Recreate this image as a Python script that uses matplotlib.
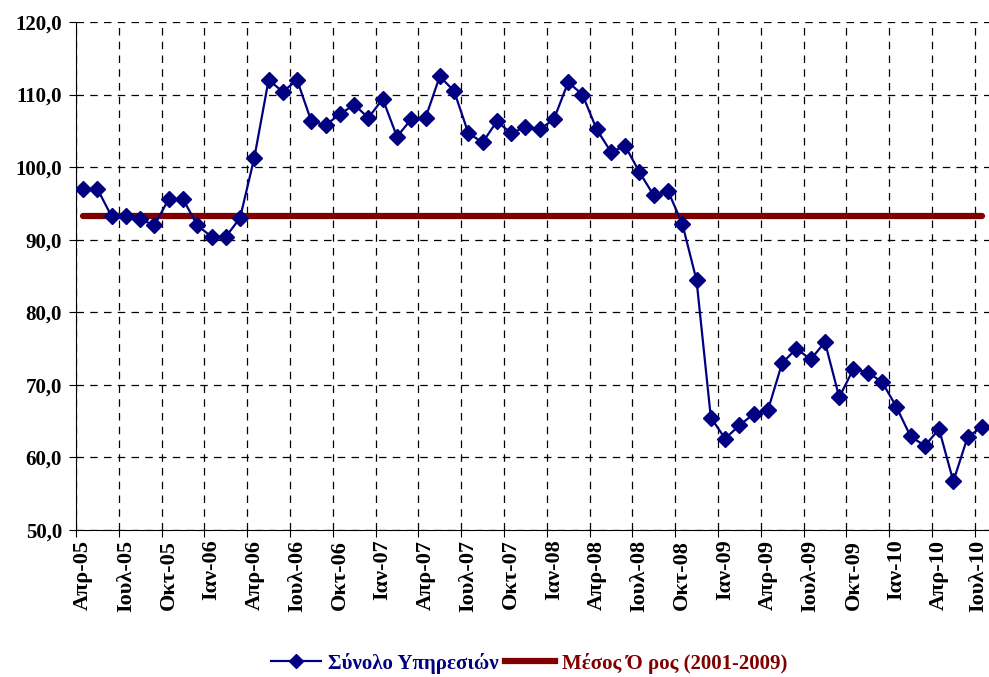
import numpy as np
import matplotlib.pyplot as plt
import matplotlib.transforms as mtransforms
from matplotlib.lines import Line2D

plt.rcParams['font.family'] = ['Liberation Serif', 'DejaVu Serif']
plt.rcParams['font.weight'] = 'bold'

tick_labels = ["Απρ-05", "Ιουλ-05", "Οκτ-05", "Ιαν-06", "Απρ-06", "Ιουλ-06", "Οκτ-06",
               "Ιαν-07", "Απρ-07", "Ιουλ-07", "Οκτ-07", "Ιαν-08", "Απρ-08", "Ιουλ-08",
               "Οκτ-08", "Ιαν-09", "Απρ-09", "Ιουλ-09", "Οκτ-09", "Ιαν-10", "Απρ-10", "Ιουλ-10"]

services = [97.0, 97.0, 93.2, 93.2, 92.8, 92.0, 95.6, 95.6, 92.0, 90.4, 90.4, 93.0,
            101.3, 112.0, 110.4, 112.0, 106.3, 105.8, 107.3, 108.6, 106.8, 109.4, 104.2, 106.6,
            106.8, 112.5, 110.5, 104.7, 103.4, 106.3, 104.7, 105.5, 105.2, 106.6, 111.7, 110.0,
            105.2, 102.1, 102.9, 99.3, 96.1, 96.7, 92.2, 84.4, 65.5, 62.6, 64.4, 66.0,
            66.5, 73.0, 75.0, 73.5, 75.9, 68.3, 72.2, 71.7, 70.4, 67.0, 62.9, 61.6,
            63.9, 56.7, 62.8, 64.2]
mean_2001_2009 = 93.3

x = np.arange(len(services))

fig = plt.figure(figsize=(9.89, 6.77), dpi=100)
ax = fig.add_axes([76/989, 1 - 530/677, 913/989, 508/677])

ax.plot(x, [mean_2001_2009] * len(x), color='#800000', lw=4.5, solid_capstyle='round', zorder=2)
ax.plot(x, services, color='#000080', lw=1.6, marker='D', markersize=8.5, zorder=3)

ax.set_xlim(-0.5, len(x) - 0.5)
ax.set_ylim(50, 120)
yt = np.arange(50, 121, 10)
ax.set_yticks(yt)
ax.set_yticklabels([f"{v:.1f}".replace('.', ',') for v in yt], fontsize=15, fontweight='bold')

# major ticks at category boundaries (grid), labels at categories
ax.set_xticks(np.arange(-0.5, len(x), 3))
ax.set_xticklabels([])
ax.set_xticks(np.arange(0, len(x), 3), minor=True)
ax.set_xticklabels(tick_labels, minor=True, rotation=90, fontsize=16, fontweight='bold')
ax.tick_params(axis='x', which='minor', length=0, pad=7)
ax.tick_params(axis='x', which='major', length=5, direction='out')
ax.tick_params(axis='y', length=5, direction='out', pad=5)

# keep the last label inside the figure
last = ax.get_xticklabels(minor=True)[-1]
last.set_transform(last.get_transform() + mtransforms.ScaledTranslation(-4/100, 0, fig.dpi_scale_trans))

ax.grid(True, which='major', color='black', linestyle=(0, (6, 5)), lw=0.9)
ax.spines['top'].set_visible(False)
ax.spines['right'].set_visible(False)
ax.set_axisbelow(True)

handles = [Line2D([], [], color='#000080', lw=1.6, marker='D', markersize=7),
           Line2D([], [], color='#800000', lw=4.5)]
leg = fig.legend(handles, ["Σύνολο Υπηρεσιών", "Μέσος Ό ρος (2001-2009)"], loc='center',
                 bbox_to_anchor=(0.535, 1 - 663/677), ncol=2, frameon=False,
                 prop={'size': 15, 'weight': 'bold'}, handlelength=2.4, columnspacing=0.3,
                 handletextpad=0.35)
leg.get_texts()[0].set_color('#000080')
leg.get_texts()[1].set_color('#800000')

fig.savefig("out.png", dpi=100)
